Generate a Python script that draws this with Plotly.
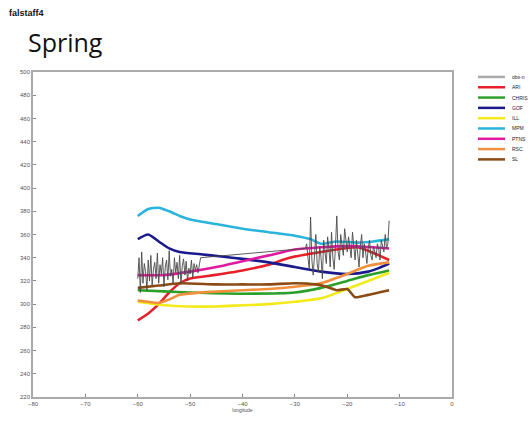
import numpy as np
import plotly.graph_objects as go

# ---------------- data ----------------
series_names = ["obs-n", "ARI", "CHRIS", "GOF", "ILL", "MPM", "PTNS", "RSC", "SL"]
series_colors = ["#8c8c8c", "#e8202a", "#2aa02a", "#1a1a8c", "#f2ea1a",
                 "#2ab4dc", "#e01aa0", "#f0903c", "#8c4a14"]

obs1_vals = [322, 340, 310, 345, 318, 335, 328, 312, 338, 320, 342, 316, 330, 336, 322,
             344, 318, 334, 326, 340, 315, 332, 338, 321, 346, 324, 330, 318, 340, 327,
             336, 322, 342, 317, 333, 339, 325, 337, 320, 331, 326, 338, 323, 335, 329,
             334, 327, 336, 340]
obs2_vals = [348, 352, 340, 330, 375, 338, 325, 345, 360, 335, 328, 350, 340, 322, 355,
             345, 335, 358, 348, 332, 362, 340, 330, 350, 376, 345, 338, 360, 352, 342,
             365, 355, 345, 358, 348, 340, 362, 350, 338, 355, 345, 332, 350, 360, 340,
             352, 345, 335, 348, 355, 342, 338, 350, 346, 340, 352, 348, 338, 355, 350,
             345, 360, 348, 352, 372]

ari_lon = [-60, -58, -56, -54, -52, -50, -47, -44, -40, -35, -31, -25, -18, -15, -12]
ari_val = [286, 292, 300, 310, 318, 322, 324, 326, 329, 334, 340, 345, 349, 344, 338]

chris_lon = [-60, -55, -50, -40, -30, -25, -20, -16, -12]
chris_val = [312, 311, 310, 309, 310, 314, 320, 325, 329]

gof_lon = [-60, -58, -56, -54, -52, -48, -44, -40, -35, -30, -25, -20, -16, -14, -12]
gof_val = [356, 360, 354, 348, 345, 343, 341, 339, 336, 332, 328, 326, 328, 331, 335]

ill_lon = [-60, -55, -50, -45, -40, -35, -30, -25, -20, -16, -12]
ill_val = [302, 299, 298, 298, 299, 300, 302, 305, 313, 320, 327]

mpm_lon = [-60, -58, -56, -54, -52, -50, -45, -40, -35, -30, -27, -25, -22, -18, -15, -12]
mpm_val = [376, 382, 383, 380, 376, 373, 369, 365, 362, 359, 356, 352, 354, 353, 354, 356]

ptns_lon = [-60, -55, -50, -45, -40, -35, -30, -25, -20, -15, -12]
ptns_val = [325, 325, 328, 332, 337, 342, 347, 349, 350, 349, 348]

rsc_lon = [-60, -58, -56, -54, -52, -48, -44, -40, -35, -30, -25, -20, -16, -12]
rsc_val = [303, 302, 301, 304, 308, 310, 311, 312, 313, 315, 318, 326, 333, 336]

sl_lon = [-60, -56, -52, -45, -40, -35, -30, -26, -24, -22, -20, -18.5, -16, -14, -12]
sl_val = [314, 316, 318, 317, 317, 317, 318, 317, 315, 312, 313, 306, 308, 310, 312]

x_ticks = [-80, -70, -60, -50, -40, -30, -20, -10, 0]
y_ticks = list(range(220, 501, 20))

# ---------------- figure ----------------
obs_lon = list(np.linspace(-60, -48, len(obs1_vals))) + list(np.linspace(-28, -12, len(obs2_vals)))
obs_val = obs1_vals + obs2_vals

model_data = [(ari_lon, ari_val), (chris_lon, chris_val), (gof_lon, gof_val),
              (ill_lon, ill_val), (mpm_lon, mpm_val), (ptns_lon, ptns_val),
              (rsc_lon, rsc_val), (sl_lon, sl_val)]

fig = go.Figure()
for i, (lx, ly) in enumerate(model_data):
    fig.add_trace(go.Scatter(x=lx, y=ly, mode="lines", name=series_names[i + 1],
                             line=dict(color=series_colors[i + 1], width=2.6, shape="spline",
                                       smoothing=0.6),
                             showlegend=False))
fig.add_trace(go.Scatter(x=obs_lon, y=obs_val, mode="lines", name=series_names[0],
                         line=dict(color="#4a4a4a", width=0.9), showlegend=False))

# custom compact legend
L, R, T, B = 33, 79, 72, 24
W, H = 531, 424
pw, ph = W - L - R, H - T - B
def px2x(px):
    return (px - L) / pw
def py2y(py):
    return (H - B - py) / ph

shapes = []
annotations = []
for i, (nm, col) in enumerate(zip(series_names, series_colors)):
    yy = py2y(77 + i * 10.4)
    shapes.append(dict(type="line", xref="paper", yref="paper",
                       x0=px2x(478), x1=px2x(505), y0=yy, y1=yy,
                       line=dict(color=col if i else "#aaaaaa", width=2.5)))
    annotations.append(dict(text=nm, xref="paper", yref="paper", x=px2x(510), y=yy,
                            xanchor="left", yanchor="middle", showarrow=False,
                            font=dict(size=5, color="#222", family="Liberation Sans")))

annotations.append(dict(text="<b>falstaff4</b>", xref="paper", yref="paper",
                        x=px2x(7), y=py2y(12), xanchor="left", yanchor="middle",
                        showarrow=False, font=dict(size=9, color="#111", family="Liberation Sans")))
annotations.append(dict(text="Spring", xref="paper", yref="paper",
                        x=px2x(26), y=py2y(42), xanchor="left", yanchor="middle",
                        showarrow=False, font=dict(size=25, color="#111", family="Open Sans")))

fig.update_layout(
    width=W, height=H,
    margin=dict(l=L, r=R, t=T, b=B),
    paper_bgcolor="white", plot_bgcolor="white",
    showlegend=False,
    shapes=shapes, annotations=annotations,
    font=dict(family="Liberation Sans", size=6, color="#555"),
)
fig.update_xaxes(range=[-80, 0], tickvals=x_ticks, ticks="inside", ticklen=3,
                 tickcolor="#888", showline=True, linecolor="#aaa", linewidth=1.5,
                 mirror=True, showgrid=False, zeroline=False,
                 tickfont=dict(size=6, color="#555"),
                 title=dict(text="longitude", font=dict(size=5, color="#555"), standoff=2))
fig.update_yaxes(range=[220, 500], tickvals=y_ticks, ticks="inside", ticklen=3,
                 tickcolor="#888", showline=True, linecolor="#aaa", linewidth=1.5,
                 mirror=True, showgrid=False, zeroline=False,
                 tickfont=dict(size=6, color="#555"))

fig.write_html("out.html")
